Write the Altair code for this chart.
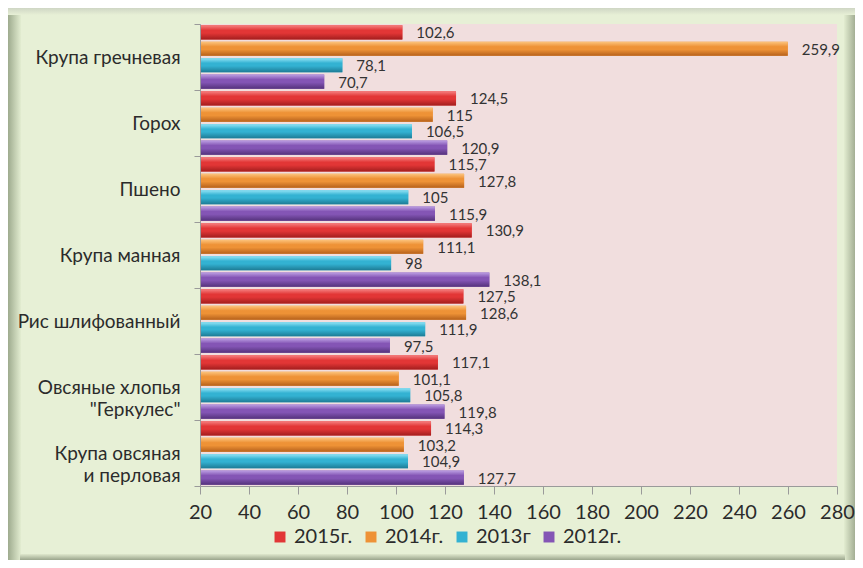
import altair as alt
import pandas as pd

categories = [
    "Крупа гречневая",
    "Горох",
    "Пшено",
    "Крупа манная",
    "Рис шлифованный",
    "Овсяные хлопья\n\"Геркулес\"",
    "Крупа овсяная\nи перловая",
]
years = ["2015г.", "2014г.", "2013г", "2012г."]
v2015 = [102.6, 124.5, 115.7, 130.9, 127.5, 117.1, 114.3]
v2014 = [259.9, 115, 127.8, 111.1, 128.6, 101.1, 103.2]
v2013 = [78.1, 106.5, 105, 98, 111.9, 105.8, 104.9]
v2012 = [70.7, 120.9, 115.9, 138.1, 97.5, 119.8, 127.7]
x_ticks = list(range(20, 281, 20))
colors = ["#e23636", "#ee9236", "#33b2d2", "#8455b5"]
light = ["#f58080", "#fcc47e", "#93e4f6", "#bb9ee2"]
dark = ["#a31e1e", "#b5601b", "#1d7b95", "#55337c"]

series = [v2015, v2014, v2013, v2012]
rows = []
for yr, vals in zip(years, series):
    for cat, v in zip(categories, vals):
        rows.append({"cat": cat, "year": yr, "value": v,
                     "label": f"{v:g}".replace(".", ",")})
df = pd.DataFrame(rows)

W, H = 637, 462
PAD = {"left": 192, "top": 16, "right": 18, "bottom": 74}
FONT = "Lato"

y_enc = alt.Y("cat:N", sort=categories,
              scale=alt.Scale(paddingInner=0, paddingOuter=0),
              axis=alt.Axis(title=None, tickBand="extent", tickSize=6,
                            labelPadding=14, labelFontSize=19, labelFont=FONT,
                            labelColor="#2b2b2b", labelLineHeight=22,
                            labelExpr="split(datum.label, '\\n')",
                            domainColor="#9a9a9a", tickColor="#9a9a9a", zindex=2))
yoff_enc = alt.YOffset("year:N", sort=years,
                       scale=alt.Scale(paddingInner=0.14, paddingOuter=0.08))
x_enc = alt.X("value:Q", scale=alt.Scale(domain=[20, 280], nice=False, zero=False),
              axis=alt.Axis(title=None, values=x_ticks, grid=False, tickSize=8,
                            labelPadding=8, labelFontSize=20, labelFont=FONT,
                            labelColor="#2b2b2b", domainColor="#9a9a9a",
                            tickColor="#9a9a9a", labelFlush=False, zindex=2))

base = alt.Chart(df)

bars = base.mark_bar().encode(
    x=x_enc,
    x2=alt.datum(20),
    y=y_enc,
    yOffset=yoff_enc,
    color=alt.Color("year:N", sort=years,
                    scale=alt.Scale(domain=years, range=colors),
                    legend=alt.Legend(title=None, orient="none", direction="horizontal",
                                      legendX=70, legendY=503, symbolType="square",
                                      symbolSize=120, symbolStrokeWidth=0,
                                      labelFontSize=20, labelFont=FONT,
                                      labelColor="#2b2b2b", labelOffset=4,
                                      columnPadding=8)),
)

shades = []
for yr, c_l, c_m, c_d in zip(years, light, colors, dark):
    g = alt.LinearGradient(
        gradient="linear", x1=0, x2=0, y1=0, y2=1,
        stops=[alt.GradientStop(color=c_l, offset=0),
               alt.GradientStop(color=c_m, offset=0.35),
               alt.GradientStop(color=c_m, offset=0.55),
               alt.GradientStop(color=c_d, offset=1)])
    shades.append(
        base.transform_filter(alt.datum.year == yr).mark_bar(color=g).encode(
            x="value:Q", x2=alt.datum(20), y=alt.Y("cat:N", sort=categories),
            yOffset=alt.YOffset("year:N", sort=years)))

labels = base.mark_text(align="left", baseline="middle", dx=14, dy=1,
                        fontSize=15, font=FONT, color="#333333").encode(
    x="value:Q", y=alt.Y("cat:N", sort=categories),
    yOffset=alt.YOffset("year:N", sort=years), text="label:N")

deco_df = pd.DataFrame({"d": [0]})
L = -PAD["left"]
R = W + PAD["right"]
T = -PAD["top"]
B = H + PAD["bottom"]

def grad_rect(x, x2, y, y2, c1, c2, horizontal):
    g = alt.LinearGradient(gradient="linear",
                           x1=0, y1=0, x2=1 if horizontal else 0, y2=0 if horizontal else 1,
                           stops=[alt.GradientStop(color=c1, offset=0),
                                  alt.GradientStop(color=c2, offset=1)])
    return alt.Chart(deco_df).mark_rect(color=g).encode(
        x=alt.value(x), x2=alt.value(x2), y=alt.value(y), y2=alt.value(y2))

deco = [
    grad_rect(L, L + 13, T, B, "#9eab8e", "#e3edd1", True),
    grad_rect(R - 11, R, T, B, "#e3edd1", "#a3ae94", True),
    grad_rect(L, R, T, T + 7, "#cfd6c4", "#e7f0d6", False),
    grad_rect(L + 12, R - 10, B - 6, B, "#dfe8cd", "#9aa58c", False),
]

chart = alt.layer(*deco, bars, *shades, labels).properties(
    width=W, height=H,
    autosize=alt.AutoSizeParams(type="none"),
    padding=PAD,
).configure(background="#e7f0d6").configure_view(fill="#f1dede", stroke=None)

chart.save("out.html", embed_options={"renderer": "svg", "actions": False})
